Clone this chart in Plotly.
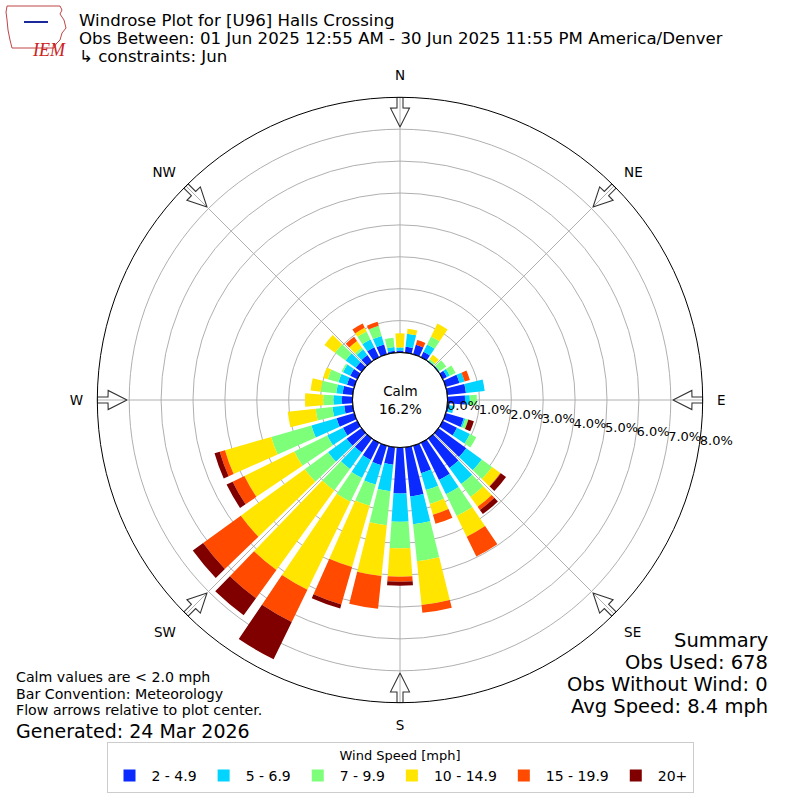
import math

import plotly.graph_objects as go

# Wind direction sectors (degrees, meteorological convention)
directions = list(range(0, 360, 10))

# Frequency (%) per speed bin for each direction
speed_2_5 = [0.06, 0.19, 0.31, 0.19, 0.02, 0.03, 0.15, 0.45, 0.59, 0.55, 0.05, 0.59,
             0.50, 1.08, 1.15, 1.30, 0.90, 1.55, 1.44, 0.55, 0.64, 0.60, 0.55, 0.58,
             0.50, 0.58, 0.27, 0.33, 0.32, 0.24, 0.25, 0.23, 0.25, 0.35, 0.32, 0.06]
speed_5_7 = [0.10, 0.41, 0.00, 0.26, 0.02, 0.02, 0.10, 0.17, 0.59, 0.15, 0.15, 0.05,
             0.45, 0.60, 0.62, 0.50, 0.55, 0.88, 0.89, 0.84, 0.63, 0.63, 0.63, 0.72,
             0.55, 0.82, 0.37, 0.27, 0.20, 0.28, 0.25, 0.39, 0.22, 0.27, 0.28, 0.12]
speed_7_10 = [0.00, 0.00, 0.00, 0.28, 0.06, 0.25, 0.20, 0.00, 0.00, 0.22, 0.00, 0.10,
              0.22, 0.40, 0.50, 0.76, 0.45, 1.16, 0.83, 1.07, 0.69, 0.83, 0.84, 0.90,
              1.15, 1.31, 0.53, 0.32, 0.49, 0.35, 0.05, 0.41, 0.08, 0.28, 0.33, 0.29]
speed_10_15 = [0.44, 0.16, 0.00, 0.45, 0.16, 0.00, 0.00, 0.00, 0.00, 0.00, 0.00, 0.00,
               0.00, 0.32, 0.38, 0.72, 0.35, 1.38, 0.89, 1.60, 2.00, 3.07, 3.08, 2.48,
               1.74, 1.51, 0.88, 0.57, 0.32, 0.15, 0.00, 0.41, 0.25, 0.13, 0.00, 0.00]
speed_15_20 = [0.00, 0.00, 0.16, 0.00, 0.00, 0.00, 0.00, 0.17, 0.00, 0.00, 0.00, 0.00,
               0.00, 0.02, 0.12, 0.69, 0.30, 0.25, 0.16, 1.03, 1.22, 1.12, 1.09, 1.46,
               0.41, 0.17, 0.00, 0.00, 0.00, 0.00, 0.00, 0.00, 0.16, 0.15, 0.13, 0.00]
speed_20_up = [0.00, 0.00, 0.00, 0.00, 0.00, 0.00, 0.00, 0.00, 0.00, 0.00, 0.00, 0.18,
               0.00, 0.20, 0.16, 0.00, 0.00, 0.00, 0.12, 0.00, 0.13, 1.30, 0.66, 0.40,
               0.21, 0.17, 0.00, 0.00, 0.00, 0.00, 0.00, 0.00, 0.00, 0.00, 0.00, 0.00]

bin_labels = ["2 - 4.9", "5 - 6.9", "7 - 9.9", "10 - 14.9", "15 - 19.9", "20+"]
bin_colors = ["#0a2aff", "#00d4ff", "#7dff7a", "#ffe500", "#ff4a00", "#800000"]

radial_ticks = [0, 1, 2, 3, 4, 5, 6, 7, 8]
radial_ticktext = ["0.0%", "1.0%", "2.0%", "3.0%", "4.0%", "5.0%", "6.0%", "7.0%", "8.0%"]
radial_label_dir = 98  # compass direction along which the % labels sit
compass_angles = [0, 45, 90, 135, 180, 225, 270, 315]
compass_labels = ["N", "NE", "E", "SE", "S", "SW", "W", "NW"]

calm_pct = 16.2

W = H = 800
FONT = "DejaVu Sans"

# geometry of the polar area (pixels)
cx, cy = 400, 400
outer_px = 302.7
hole_px = 47.5


def px_to_paper(x, y):
    """Convert pixel coordinates (origin top-left) to paper coordinates."""
    return x / W, 1 - y / H


def pct_from_px(r_px):
    """Convert a pixel radius to the radial axis value (percent)."""
    return (r_px - hole_px) / (outer_px - hole_px) * radial_ticks[-1]


fig = go.Figure()

series = [speed_2_5, speed_5_7, speed_7_10, speed_10_15, speed_15_20, speed_20_up]
for values, label, color in zip(series, bin_labels, bin_colors):
    fig.add_trace(go.Barpolar(r=values, theta=directions, width=8, name=label,
                              marker=dict(color=color, line=dict(width=0))))

# Calm circle at the hole edge
circle_theta = [i * 2 for i in range(181)]
fig.add_trace(go.Scatterpolar(r=[0] * len(circle_theta), theta=circle_theta, mode="lines",
                              line=dict(color="black", width=1.2), showlegend=False,
                              hoverinfo="skip"))

# Flow arrows at the rim, pointing to the centre
arrow_shape = [(outer_px, -3), (292, -3), (292, -9.5), (273, 0), (292, 9.5), (292, 3), (outer_px, 3),
               (outer_px, -3)]
for ang in compass_angles:
    ar = [pct_from_px(p[0]) for p in arrow_shape]
    at = [ang + math.degrees(p[1] / p[0]) for p in arrow_shape]
    fig.add_trace(go.Scatterpolar(r=ar, theta=at, mode="lines",
                                  line=dict(color="#333333", width=1.1), showlegend=False,
                                  hoverinfo="skip"))

# Percent labels, left aligned on the ring they belong to
fig.add_trace(go.Scatterpolar(r=radial_ticks, theta=[radial_label_dir] * len(radial_ticks),
                              mode="text", text=radial_ticktext, textposition="middle right",
                              textfont=dict(size=13, color="black"), cliponaxis=False,
                              showlegend=False, hoverinfo="skip"))

x0, y1 = px_to_paper(cx - outer_px, cy - outer_px)
x1, y0 = px_to_paper(cx + outer_px, cy + outer_px)

fig.update_layout(
    width=W, height=H,
    margin=dict(l=0, r=0, t=0, b=0),
    paper_bgcolor="white",
    font=dict(family=FONT, size=13, color="black"),
    polar=dict(
        domain=dict(x=[x0, x1], y=[y0, y1]),
        hole=hole_px / outer_px,
        bgcolor="white",
        barmode="stack",
        angularaxis=dict(rotation=90, direction="clockwise", tickmode="array",
                         tickvals=compass_angles, ticktext=compass_labels,
                         showgrid=True, gridcolor="#b0b0b0", gridwidth=1,
                         showline=True, linecolor="black", linewidth=1,
                         ticks="outside", ticklen=11, tickcolor="rgba(0,0,0,0)",
                         tickfont=dict(size=13.5)),
        radialaxis=dict(range=[0, radial_ticks[-1]], tickmode="array",
                        tickvals=radial_ticks, showticklabels=False,
                        showline=False, ticks="",
                        showgrid=True, gridcolor="#b0b0b0", gridwidth=1),
    ),
    legend=dict(orientation="h", x=0.5, xanchor="center", y=1 - 742 / H, yanchor="top",
                bordercolor="#cccccc", borderwidth=1, bgcolor="white",
                title=dict(text="Wind Speed [mph]", side="top center", font=dict(size=13)),
                font=dict(size=14), itemwidth=34),
)

# Titles
title_lines = ["Windrose Plot for [U96] Halls Crossing",
               "Obs Between: 01 Jun 2025 12:55 AM - 30 Jun 2025 11:55 PM America/Denver",
               "\u21b3 constraints: Jun"]
for i, line in enumerate(title_lines):
    x, y = px_to_paper(77, 20 + i * 18)
    fig.add_annotation(x=x, y=y, xref="paper", yref="paper", text=line, showarrow=False,
                       xanchor="left", yanchor="middle", height=18, font=dict(size=16.6))

# Centre label
fig.add_annotation(x=0.5, y=0.5, xref="paper", yref="paper", text="Calm<br>%.1f%%" % calm_pct,
                   showarrow=False, font=dict(size=13.5))

# Footnotes
notes = ["Calm values are < 2.0 mph", "Bar Convention: Meteorology", "Flow arrows relative to plot center."]
for i, line in enumerate(notes):
    x, y = px_to_paper(15, 677 + i * 16.5)
    fig.add_annotation(x=x, y=y, xref="paper", yref="paper", text=line, showarrow=False,
                       xanchor="left", yanchor="middle", height=16, borderpad=0,
                       font=dict(size=14.2))
x, y = px_to_paper(15, 731)
fig.add_annotation(x=x, y=y, xref="paper", yref="paper", text="Generated: 24 Mar 2026", showarrow=False,
                   xanchor="left", yanchor="middle", height=20, borderpad=0, font=dict(size=19))

summary = ["Summary", "Obs Used: 678", "Obs Without Wind: 0", "Avg Speed: 8.4 mph"]
for i, line in enumerate(summary):
    x, y = px_to_paper(770, 640 + i * 22)
    fig.add_annotation(x=x, y=y, xref="paper", yref="paper", text=line, showarrow=False,
                       xanchor="right", yanchor="middle", height=22, font=dict(size=19.5))

# Small IEM logo in the corner
iowa = [(7, 6), (60, 6), (62, 10), (60, 14), (64, 20), (66, 28), (62, 33), (60, 40), (56, 44),
        (54, 48), (12, 48), (10, 40), (8, 30), (7, 20), (6, 12), (7, 6)]
path = "M " + " L ".join("%.4f,%.4f" % px_to_paper(px, py) for px, py in iowa) + " Z"
fig.add_shape(type="path", path=path, xref="paper", yref="paper",
              line=dict(color="#c04545", width=1))
lx0, ly0 = px_to_paper(24, 22)
lx1, ly1 = px_to_paper(48, 22)
fig.add_shape(type="line", x0=lx0, y0=ly0, x1=lx1, y1=ly1, xref="paper", yref="paper",
              line=dict(color="#1a2a9a", width=2))
x, y = px_to_paper(30, 38)
fig.add_annotation(x=x, y=y, xref="paper", yref="paper", text="<i>IEM</i>", showarrow=False,
                   font=dict(size=18, color="#cc2222", family="Liberation Serif"))

fig.write_html("out.html", config={"displayModeBar": False},
               post_script="document.body.style.margin='0';")
